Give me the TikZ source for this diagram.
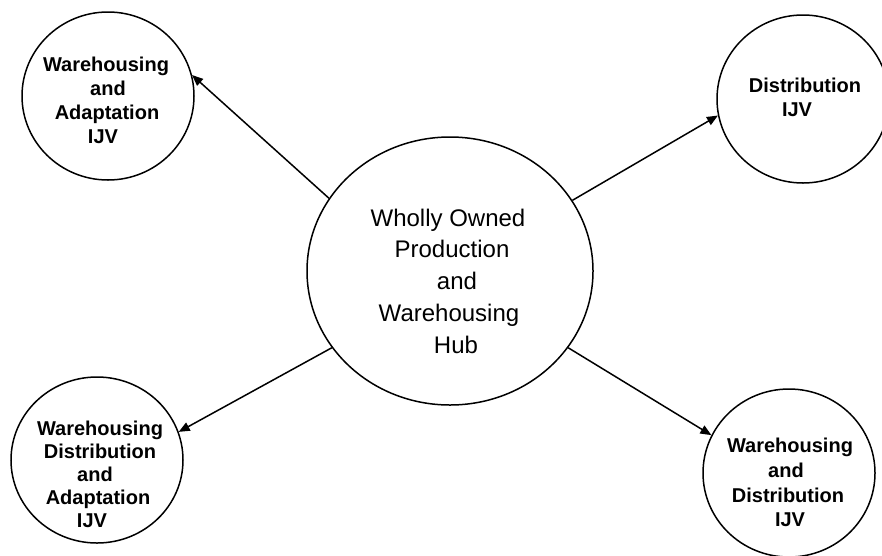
\documentclass[tikz,border=0pt]{standalone}
\usepackage{fontspec}
\setmainfont{Liberation Sans}
\usetikzlibrary{arrows.meta,shapes.geometric}
\begin{document}
\begin{tikzpicture}[x=1pt,y=-1pt]
\tikzset{
  unit/.style={draw, ellipse, line width=1.5pt, inner sep=0pt},
  ijv/.style={align=center, inner sep=0pt, font=\bfseries\fontsize{20}{#1}\selectfont},
  hubtext/.style={align=center, inner sep=0pt, font=\fontsize{24}{31.75}\selectfont},
  link/.style={line width=1.5pt, -{Triangle[length=11pt,width=9pt]}},
}
\useasboundingbox (0,0) rectangle (882,555);

% circles
\node[unit, minimum width=286pt, minimum height=268pt] (hub) at (450,271) {};
\node[unit, minimum width=172pt, minimum height=168pt] (wa)  at (108,96)  {};
\node[unit, minimum width=172pt, minimum height=168pt] (di)  at (803,99)  {};
\node[unit, minimum width=172pt, minimum height=166pt] (wda) at (97,460)  {};
\node[unit, minimum width=172pt, minimum height=168pt] (wd)  at (789,473) {};

% labels
\node[hubtext] (hubt) at (448,281)
  {Wholly Owned\\\hspace*{8pt}Production\\\hspace*{18pt}and\\\hspace*{2pt}Warehousing\\\hspace*{16pt}Hub};
\node[ijv=24] (wat) at (106,100.7)
  {Warehousing\\\hspace*{4pt}and\\\hspace*{2pt}Adaptation\\\hspace*{-6pt}IJV};
\node[ijv=24] (dit) at (805,97.7)
  {Distribution\\\hspace*{-16pt}IJV};
\node[ijv=23] (wdat) at (100,474.7)
  {Warehousing\\Distribution\\\hspace*{-10pt}and\\\hspace*{-4pt}Adaptation\\\hspace*{-16pt}IJV};
\node[ijv=24.7] (wdt) at (790,482.7)
  {Warehousing\\\hspace*{-8pt}and\\\hspace*{-4pt}Distribution\\IJV};

% links from the hub
\draw[link] (hub.149) -- (wa.14);
\draw[link] (hub.30)  -- (di.191);
\draw[link] (hub.213) -- (wda.19);
\draw[link] (hub.327) -- (wd.154);
\end{tikzpicture}
\end{document}
